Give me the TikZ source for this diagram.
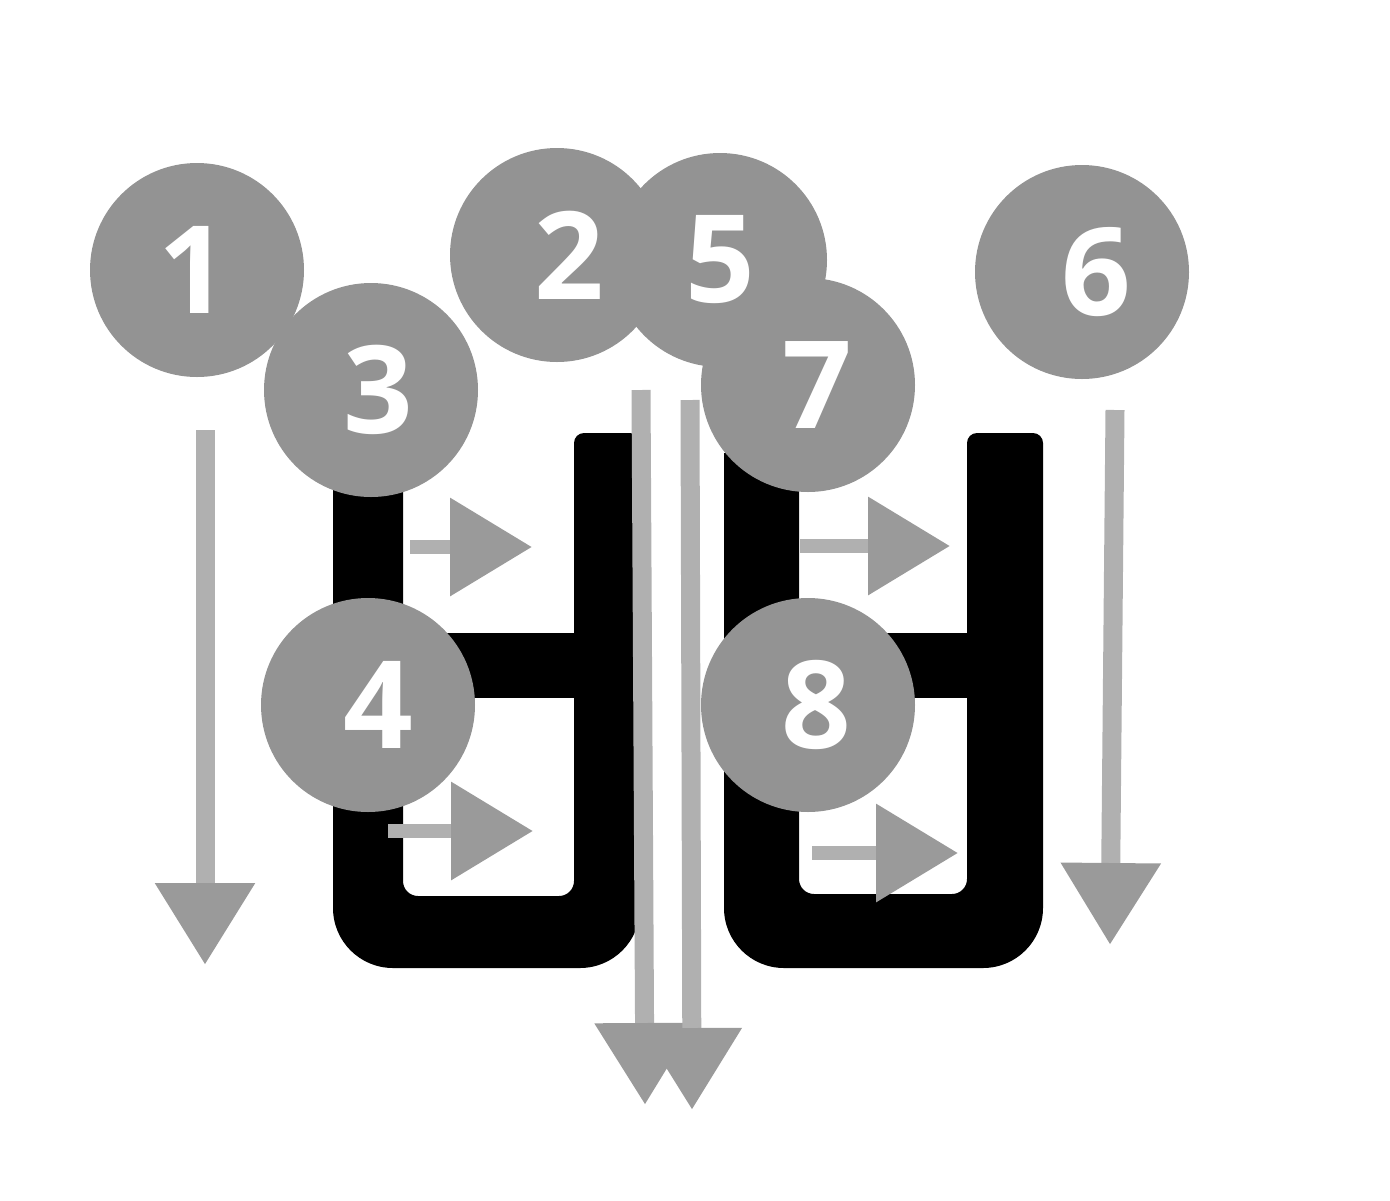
\documentclass[tikz,border=0pt]{standalone}
\usepackage{fontspec}
\setmainfont{Open Sans}
\usetikzlibrary{arrows.meta}
\definecolor{circgray}{HTML}{939393}
\definecolor{linegray}{HTML}{B0B0B0}
\definecolor{headgray}{HTML}{9A9A9A}
\tikzset{
  numc/.style={circle,fill=circgray,minimum size=214pt,inner sep=0pt,text=white,
    font=\fontsize{122}{122}\selectfont\bfseries},
  varr/.style={draw=linegray,line width=19pt,
    -{Triangle[length=82pt,width=95pt,fill=headgray,color=headgray]}},
  harr/.style={draw=linegray,line width=14pt,
    -{Triangle[length=82pt,width=95pt,fill=headgray,color=headgray]}},
}
\newcommand{\sh}[2]{\hspace*{#1pt}#2}
\begin{document}
\begin{tikzpicture}[x=1pt,y=-1pt]
\useasboundingbox (0,0) rectangle (1390,1200);
% glyph 1
\fill[black] (333,450) -- (333,908) [rounded corners=60pt] -- (333,968) -- (640,968) [rounded corners=10pt] -- (640,433) -- (574,433) [rounded corners=15pt] -- (574,896) -- (403,896) [sharp corners] -- (403,450) -- cycle;
\fill[black] (400,633) rectangle (577,698);
% glyph 2
\fill[black] (724,453) -- (724,908) [rounded corners=60pt] -- (724,968) -- (1043,968) [rounded corners=10pt] -- (1043,433) -- (967,433) [rounded corners=15pt] -- (967,894) -- (799,894) [sharp corners] -- (799,453) -- cycle;
\fill[black] (796,633) rectangle (970,698);
% arrow coordinates
\coordinate (a1s) at (205,430); \coordinate (a1e) at (205,965);
\coordinate (a2s) at (641,390); \coordinate (a2e) at (645,1105);
\coordinate (a5s) at (690,400); \coordinate (a5e) at (692,1110);
\coordinate (a6s) at (1115,410); \coordinate (a6e) at (1110,945);
\coordinate (a3s) at (410,547); \coordinate (a3e) at (532,547);
\coordinate (a4s) at (388,831); \coordinate (a4e) at (533,831);
\coordinate (a7s) at (800,546); \coordinate (a7e) at (950,546);
\coordinate (a8s) at (812,853); \coordinate (a8e) at (958,853);
\draw[varr] (a1s) -- (a1e);
\draw[varr] (a2s) -- (a2e);
\draw[varr] (a5s) -- (a5e);
\draw[varr] (a6s) -- (a6e);
\draw[harr] (a3s) -- (a3e);
\draw[harr] (a4s) -- (a4e);
\draw[harr] (a7s) -- (a7e);
\draw[harr] (a8s) -- (a8e);
% circles
\node[numc] (n1) at (197,270) {\sh{-8}{1}};
\node[numc] (n2) at (557,255) {\sh{24}{2}};
\node[numc] (n5) at (720,260) {\sh{0}{5}};
\node[numc] (n6) at (1082,272) {\sh{28}{6}};
\node[numc] (n3) at (371,390) {\sh{14}{3}};
\node[numc] (n7) at (808,385) {\sh{18}{7}};
\node[numc] (n4) at (368,705) {\sh{20}{4}};
\node[numc] (n8) at (808,705) {\sh{16}{8}};
\end{tikzpicture}
\end{document}
